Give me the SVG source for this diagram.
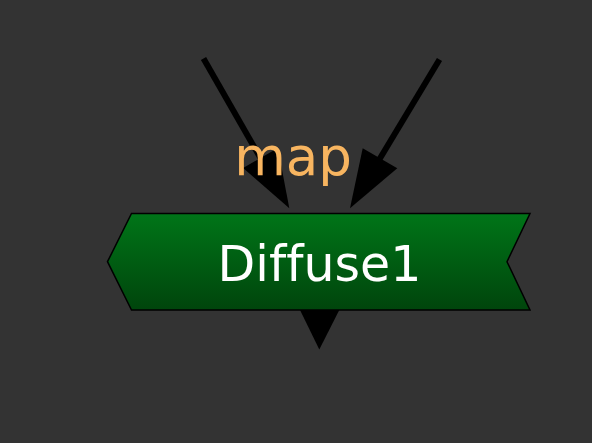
<svg xmlns="http://www.w3.org/2000/svg" width="592" height="443" viewBox="0 0 592 443">
<defs>
<linearGradient id="g" x1="0" y1="0" x2="0" y2="1">
<stop offset="0" stop-color="#007518"/>
<stop offset="1" stop-color="#00450c"/>
</linearGradient>
<style>
.edge{stroke:#000;stroke-width:6;fill:none}
.head{fill:#000}
.lbl{font-family:"DejaVu Sans",Verdana,sans-serif;text-anchor:middle;font-variant-ligatures:none}
</style>
</defs>
<rect width="592" height="443" fill="#333333"/>
<g id="connectors">
<line class="edge" x1="203.5" y1="58.5" x2="265" y2="166"/>
<polygon class="head" points="289.3,208.3 243.1,167.9 277.9,148.1"/>
<line class="edge" x1="439.5" y1="59.5" x2="376" y2="165"/>
<polygon class="head" points="350,208.3 362.7,148.3 397.3,168.3"/>
<polygon class="head" points="300,310 339.3,310 319.3,349.5"/>
</g>
<g id="map-label">
<text class="lbl" x="293" y="175" font-size="53" fill="#f8b560">map</text>
</g>
<g id="Diffuse1">
<polygon points="107.5,261.7 131.5,213.5 530,213.5 507,261.7 530,310 131.5,310" fill="url(#g)" stroke="#000" stroke-width="1.5"/>
<text class="lbl" x="319.5" y="281" font-size="49" fill="#ffffff">Diffuse1</text>
</g>
</svg>
